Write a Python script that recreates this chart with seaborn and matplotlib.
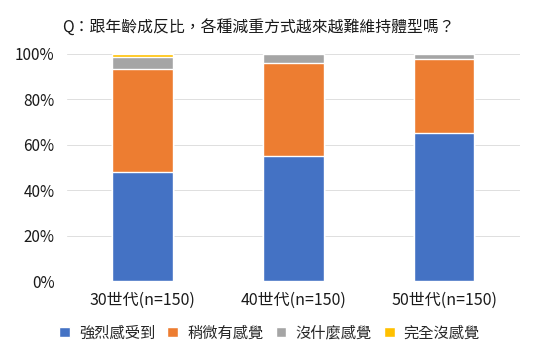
import numpy as np
import pandas as pd
import matplotlib
matplotlib.use("Agg")
import matplotlib.pyplot as plt
import seaborn as sns
from matplotlib.patches import Patch
from matplotlib.ticker import PercentFormatter

sns.set_style("white")
plt.rcParams["font.family"] = ["Noto Sans CJK TC", "DejaVu Sans"]

# data (percent of respondents)
groups = ["30世代(n=150)", "40世代(n=150)", "50世代(n=150)"]
answers = ["強烈感受到", "稍微有感覺", "沒什麼感覺", "完全沒感覺"]
strong = [48.0, 55.0, 65.0]
slight = [45.3, 41.0, 33.0]
little = [5.3, 4.0, 2.0]
none_ = [1.4, 0.0, 0.0]
colors = ["#4472C4", "#ED7D31", "#A5A5A5", "#FFC000"]

series = [strong, slight, little, none_]
cum = np.cumsum(np.array(series), axis=0) / 100.0

fig = plt.figure(figsize=(5.5, 3.52), dpi=100)
ax = fig.add_axes([0.122, 0.2017, 0.823, 0.645])

# draw stacked bars from the top segment down
for i in range(len(series) - 1, -1, -1):
    df = pd.DataFrame({"group": groups, "value": cum[i]})
    sns.barplot(data=df, x="group", y="value", color=colors[i],
                width=0.4, saturation=1, ax=ax, zorder=2)

ax.set_ylim(0, 1.0)
ax.set_xlim(-0.5, 2.5)
ax.set_yticks(np.arange(0, 1.01, 0.2))
ax.yaxis.set_major_formatter(PercentFormatter(1.0, decimals=0))
ax.grid(axis="y", color="#dedede", linewidth=0.7, zorder=0)
ax.set_axisbelow(True)
sns.despine(ax=ax, left=True, bottom=True)
ax.tick_params(axis="both", length=0, labelsize=11, colors="#1a1a1a")
ax.tick_params(axis="y", pad=9)
ax.tick_params(axis="x", labelsize=11.5, pad=8)
ax.set_xlabel("")
ax.set_ylabel("")

fig.text(0.47, 0.923, "Q：跟年齡成反比，各種減重方式越來越難維持體型嗎？",
         ha="center", va="center", fontsize=11.4, color="#1a1a1a")

handles = [Patch(facecolor=c, label=a) for c, a in zip(colors, answers)]
fig.legend(handles=handles, loc="center", bbox_to_anchor=(0.49, 0.054),
           ncol=4, frameon=False, fontsize=11, handlelength=0.7,
           handleheight=0.7, handletextpad=0.6, columnspacing=0.8)

fig.savefig("out.png", dpi=100)
